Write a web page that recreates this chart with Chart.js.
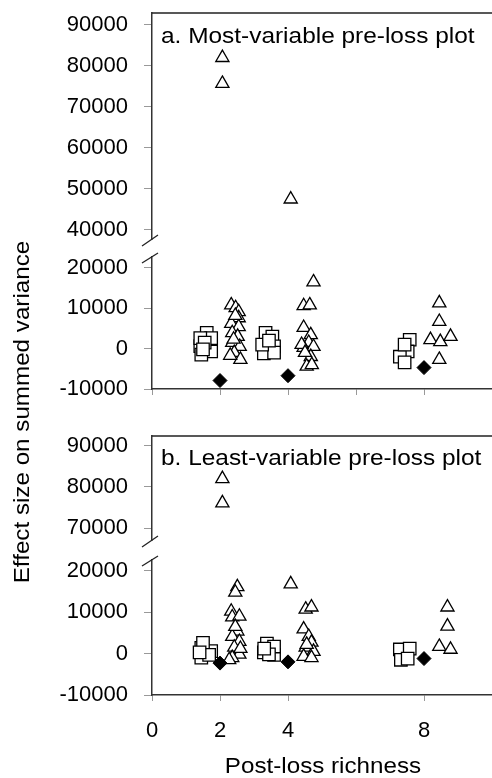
<!DOCTYPE html>
<html>
<head>
<meta charset="utf-8">
<script src="https://cdn.jsdelivr.net/npm/chart.js@4"></script>
<style>
  body { margin: 0; background: #fff; width: 492px; height: 778px; position: relative; overflow: hidden;
         font-family: "Liberation Sans", Arial, sans-serif; }
  .box { position: absolute; left: 0; width: 492px; }
  .txt { position: absolute; font-size: 22px; color: #000; white-space: nowrap; }
</style>
</head>
<body>
<div class="box" style="top:0;height:250px"><canvas id="aTop"></canvas></div>
<div class="box" style="top:250px;height:160px"><canvas id="aBot"></canvas></div>
<div class="box" style="top:420px;height:130px"><canvas id="bTop"></canvas></div>
<div class="box" style="top:550px;height:228px"><canvas id="bBot"></canvas></div>

<div class="txt" style="left:161px;top:25px;line-height:22px;transform-origin:0 50%;transform:scaleX(1.11)">a. Most-variable pre-loss plot</div>
<div class="txt" style="left:161px;top:447px;line-height:22px;transform-origin:0 50%;transform:scaleX(1.11)">b. Least-variable pre-loss plot</div>
<div class="txt" style="left:-158px;top:399px;width:360px;height:26px;line-height:26px;text-align:center;transform:rotate(-90deg) scaleX(1.1)">Effect size on summed variance</div>
<div class="txt" style="left:173px;top:753px;width:300px;height:26px;line-height:26px;text-align:center;transform:scaleX(1.1)">Post-loss richness</div>

<script>
// Effect size on summed variance vs post-loss richness (two panels, broken y axis)

const xTicksA = [0, 2, 4, 6, 8];
const xTicksB = [0, 2, 4, 8];
const yTicksUpperA = [40000, 50000, 60000, 70000, 80000, 90000];
const yTicksUpperB = [70000, 80000, 90000];
const yTicksLower = [-10000, 0, 10000, 20000];

// panel a: most-variable pre-loss plot
const aDiamondX = [2, 4, 8];
const aDiamondY = [-7900, -6700, -4700];
const aSquareX = [1.61, 1.74, 1.42, 1.74, 1.42, 1.45, 1.55, 1.50,
                  3.34, 3.54, 3.59, 3.29, 3.59, 3.24, 3.44,
                  7.58, 7.52, 7.29, 7.43, 7.43];
const aSquareY = [3900, 2600, 600, -700, 2600, -1500, 1500, -200,
                  3900, 3000, 550, -1200, -1000, 1000, 2000,
                  2200, -700, -2000, -3400, 1000];
const aTriangleX = [2.07, 2.07,
                    2.33, 2.46, 2.55, 2.55, 2.33, 2.55, 2.36, 2.52, 2.36, 2.58, 2.42, 2.60, 2.30, 2.45, 2.40,
                    4.08,
                    4.75, 4.46, 4.64, 4.46, 4.67, 4.61, 4.46, 4.75, 4.67, 4.55, 4.70, 4.40, 4.50,
                    8.45, 8.45, 8.19, 8.48, 8.78, 8.45];
const aTriangleY = [82000, 75700,
                    10800, 10100, 9100, 7600, 6200, 5400, 3900, 3000, 1500, 500, -1000, -2700, -1700, 8200, 2300,
                    47500,
                    16500, 10600, 10800, 5200, 3400, 1500, 250, 500, -2000, -4400, -4000, 1000, -1000,
                    11300, 6700, 2200, 1700, 3000, -2700];

// panel b: least-variable pre-loss plot
const bDiamondX = [2, 4, 8];
const bDiamondY = [-2300, -2000, -1200];
const bSquareX = [1.45, 1.74, 1.50, 1.45, 1.68, 1.40,
                  3.29, 3.59, 3.38, 3.59, 3.44, 3.30,
                  7.29, 7.58, 7.32, 7.52];
const bSquareY = [1400, 600, 2600, -1000, -300, 300,
                  300, -300, 2400, 1700, -200, 1200,
                  1000, 1200, -1500, -1200];
const bTriangleX = [2.07, 2.07,
                    2.51, 2.45, 2.33, 2.36, 2.57, 2.51, 2.36, 2.57, 2.42, 2.57, 2.36, 2.60, 2.27, 2.45,
                    4.08, 4.52, 4.69, 4.46, 4.61, 4.69, 4.52, 4.75, 4.46, 4.69, 4.55,
                    8.69, 8.69, 8.45, 8.78];
const bTriangleY = [82000, 76100,
                    16100, 14800, 10200, 8800, 9000, 5400, 4100, 2900, 1500, -200, -1000, 1200, -1500, 6500,
                    16800, 10700, 11200, 5900, 4100, 2700, 1500, 500, -700, -1000, 2200,
                    11200, 6600, 1700, 1000];

const tickFont = { family: 'Liberation Sans', size: 22 };

function pts(xs, ys, lo, hi) {
    const out = [];
    xs.forEach((x, i) => {
        if (ys[i] >= lo && ys[i] <= hi) out.push({ x: x, y: ys[i] });
    });
    return out;
}

// top frame line and the // marks of the broken axis
const frameLines = {
    id: 'frameLines',
    afterDraw(chart, args, opts) {
        const { ctx, chartArea: a } = chart;
        ctx.save();
        ctx.strokeStyle = '#222';
        ctx.lineWidth = 1.3;
        ctx.beginPath();
        if (opts.topLine) { ctx.moveTo(a.left, a.top); ctx.lineTo(a.right, a.top); }
        if (opts.breakBelow) { ctx.moveTo(a.left - 10, a.bottom + 7); ctx.lineTo(a.left + 6, a.bottom - 4); }
        if (opts.breakAbove) { ctx.moveTo(a.left - 10, a.top + 6); ctx.lineTo(a.left + 6, a.top - 4); }
        ctx.stroke();
        ctx.restore();
    }
};

function makeSection(id, p, s) {
    const lo = s.yMin, hi = s.yMax;
    const xScale = s.xTicks ? {
        type: 'linear', min: 0, max: 10,
        border: { color: '#333', width: 1.5 },
        grid: { drawOnChartArea: false, tickLength: 6, color: '#999' },
        ticks: { display: s.xLabels, font: tickFont, color: '#000', padding: 17, callback: v => String(v) },
        afterBuildTicks: sc => { sc.ticks = s.xTicks.map(v => ({ value: v })); },
        afterFit: sc => { sc.height = s.xHeight; sc.paddingLeft = 0; sc.paddingRight = 0; }
    } : { type: 'linear', min: 0, max: 10, display: false };

    new Chart(document.getElementById(id), {
        type: 'scatter',
        data: {
            datasets: [
                { data: pts(p.dx, p.dy, lo, hi), pointStyle: 'rectRot', pointRadius: 7,
                  backgroundColor: '#000', borderColor: '#000', borderWidth: 1 },
                { data: pts(p.tx, p.ty, lo, hi), pointStyle: 'triangle', pointRadius: 7.6,
                  backgroundColor: '#fff', borderColor: '#000', borderWidth: 1.3 },
                { data: pts(p.sx, p.sy, lo, hi), pointStyle: 'rect', pointRadius: 8.8,
                  backgroundColor: '#fff', borderColor: '#000', borderWidth: 1.3 }
            ]
        },
        options: {
            responsive: true,
            maintainAspectRatio: false,
            animation: false,
            events: [],
            layout: { padding: { top: s.padTop, bottom: s.padBottom, left: 0, right: 0 }, autoPadding: false },
            plugins: {
                legend: { display: false },
                tooltip: { enabled: false },
                frameLines: { topLine: s.topLine, breakBelow: s.breakBelow, breakAbove: s.breakAbove }
            },
            scales: {
                x: xScale,
                y: {
                    min: lo, max: hi,
                    border: { color: '#333', width: 1.5 },
                    grid: { drawOnChartArea: false, tickLength: 8, color: '#999' },
                    ticks: { font: tickFont, color: '#000', padding: 16, callback: v => String(v) },
                    afterBuildTicks: sc => { sc.ticks = s.yTicks.map(v => ({ value: v })); },
                    afterFit: sc => { sc.width = 152; sc.paddingTop = 0; sc.paddingBottom = 0; }
                }
            }
        },
        plugins: [frameLines]
    });
}

const panelA = { dx: aDiamondX, dy: aDiamondY, sx: aSquareX, sy: aSquareY, tx: aTriangleX, ty: aTriangleY };
const panelB = { dx: bDiamondX, dy: bDiamondY, sx: bSquareX, sy: bSquareY, tx: bTriangleX, ty: bTriangleY };

makeSection('aTop', panelA, { yMin: 37800, yMax: 92900, yTicks: yTicksUpperA, padTop: 13, padBottom: 11,
    topLine: true, breakBelow: true });
makeSection('aBot', panelA, { yMin: -10000, yMax: 22700, yTicks: yTicksLower, padTop: 7, padBottom: 0,
    breakAbove: true, xTicks: xTicksA, xLabels: false, xHeight: 21 });
makeSection('bTop', panelB, { yMin: 67100, yMax: 92400, yTicks: yTicksUpperB, padTop: 16, padBottom: 10,
    topLine: true, breakBelow: true });
makeSection('bBot', panelB, { yMin: -10000, yMax: 22600, yTicks: yTicksLower, padTop: 10, padBottom: 0,
    breakAbove: true, xTicks: xTicksB, xLabels: true, xHeight: 83 });
</script>
</body>
</html>
